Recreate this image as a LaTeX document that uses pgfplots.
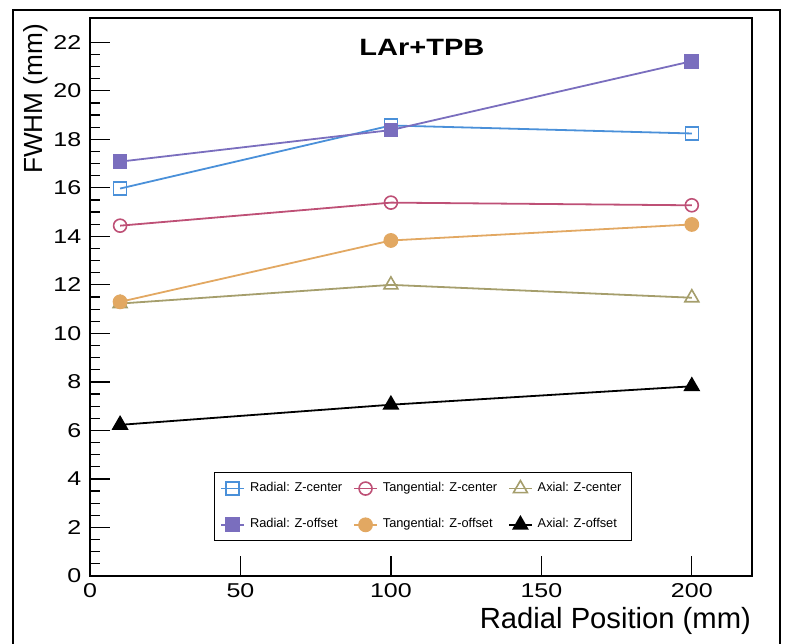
\documentclass[border=0pt]{standalone}
\usepackage{pgfplots}
\pgfplotsset{compat=1.18}
\usepackage{fontspec}
\setmainfont{Liberation Sans}
\definecolor{cRc}{RGB}{74,144,217}
\definecolor{cRo}{RGB}{122,110,190}
\definecolor{cTc}{RGB}{190,80,118}
\definecolor{cTo}{RGB}{226,168,98}
\definecolor{cAc}{RGB}{165,158,108}
\definecolor{cAo}{RGB}{0,0,0}
\begin{document}
\begin{tikzpicture}
\useasboundingbox (-45pt,-33.5pt) rectangle (348.5pt,288pt);
\begin{axis}[
  scale only axis, width=331pt, height=279pt,
  xmin=0, xmax=220, ymin=0, ymax=23,
  xtick={0,50,100,150,200}, ytick={0,2,...,22},
  minor x tick num=0, minor y tick num=3,
  tick align=inside, xtick pos=left, ytick pos=left,
  major tick length=10pt, minor tick length=5pt,
  axis line style={line width=0.7pt},
  tick style={black, line width=0.6pt},
  /pgf/number format/assume math mode=true,
  ticklabel style={font=\fontsize{10}{12}\selectfont, xscale=1.25},
  xlabel={Radial Position (mm)}, ylabel={FWHM (mm)},
  xlabel style={font=\fontsize{14.6}{16}\selectfont, at={(axis description cs:1.009,-0.081)}, anchor=east},
  ylabel style={font=\fontsize{13.1}{16}\selectfont, at={(axis description cs:-0.0816,1.002)}, anchor=east},
  legend columns=3,
  legend cell align=left,
  legend image code/.code={\draw[mark repeat=2,mark phase=2] plot coordinates {(0cm,0cm) (0.2cm,0cm) (0.4cm,0cm)};},
  legend style={at={(axis cs:41.2,4.29)}, anchor=north west, draw=black, line width=0.5pt,
    font=\fontsize{6.4}{7.6}\selectfont, row sep=8pt, inner sep=3pt,
    /tikz/every even column/.append style={column sep=3.5pt},
    /tikz/every odd column/.append style={column sep=0.5pt}},
]
\addplot[color=cRc, line width=0.9pt, mark=square, mark size=3.25pt, mark options={solid, line width=0.8pt}]
  coordinates {(10,15.97) (100,18.57) (200,18.24)};
\addlegendentry{Radial: Z-center}
\addplot[color=cTc, line width=0.9pt, mark=o, mark size=3.25pt, mark options={solid, line width=0.8pt}]
  coordinates {(10,14.44) (100,15.39) (200,15.28)};
\addlegendentry{Tangential: Z-center}
\addplot[color=cAc, line width=0.9pt, mark=triangle, mark size=4pt, mark options={solid, line width=0.8pt}]
  coordinates {(10,11.23) (100,12.0) (200,11.47)};
\addlegendentry{Axial: Z-center}
\addplot[color=cRo, line width=0.9pt, mark=square*, mark size=3.25pt, mark options={solid, fill=cRo}]
  coordinates {(10,17.08) (100,18.38) (200,21.22)};
\addlegendentry{Radial: Z-offset}
\addplot[color=cTo, line width=0.9pt, mark=*, mark size=3.25pt, mark options={solid, fill=cTo}]
  coordinates {(10,11.3) (100,13.83) (200,14.49)};
\addlegendentry{Tangential: Z-offset}
\addplot[color=cAo, line width=0.9pt, mark=triangle*, mark size=4pt, mark options={solid, fill=cAo}]
  coordinates {(10,6.23) (100,7.06) (200,7.82)};
\addlegendentry{Axial: Z-offset}
\node[font=\bfseries\fontsize{11.8}{14}\selectfont, xscale=1.23] at (axis cs:110.3,21.8) {LAr+TPB};
\end{axis}
\draw[line width=1.4pt] (-38.5pt,-60pt) -- (-38.5pt,283pt) -- (345pt,283pt) -- (345pt,-60pt);
\end{tikzpicture}
\end{document}
